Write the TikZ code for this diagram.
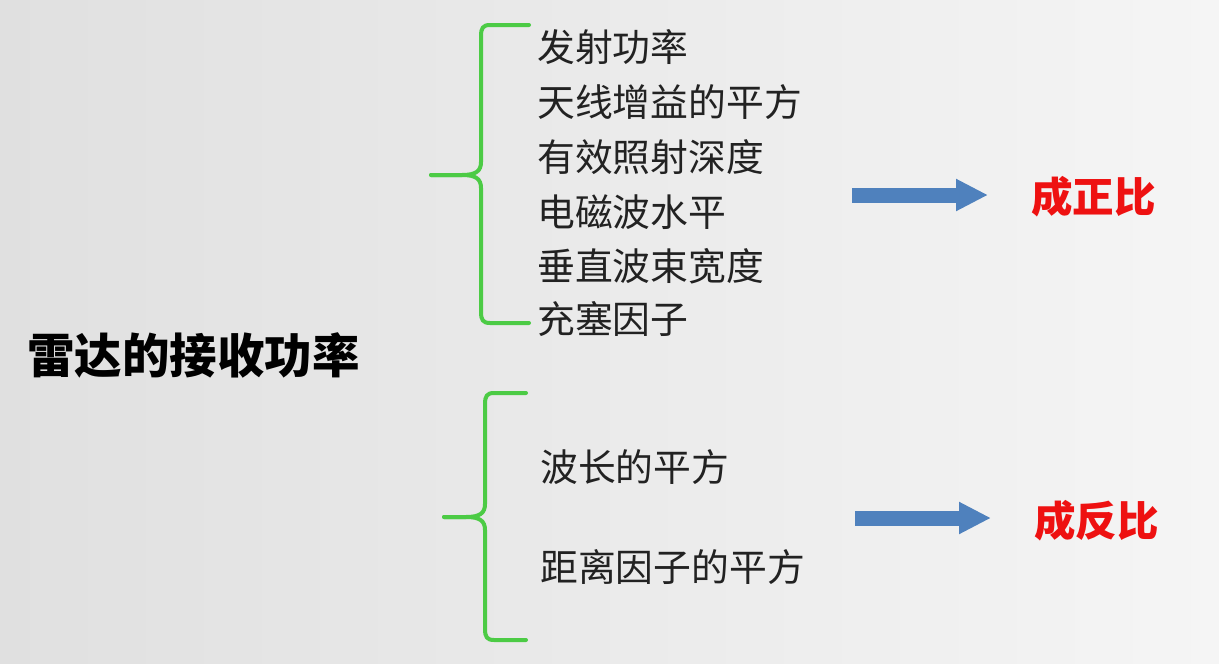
\documentclass[tikz,border=0pt]{standalone}
\usepackage{fontspec}
\newfontfamily\cjk{Noto Sans CJK SC}
\usetikzlibrary{arrows.meta}
\definecolor{bgL}{HTML}{E0E0E0}
\definecolor{bgR}{HTML}{F5F5F5}
\definecolor{brgreen}{HTML}{4CCB45}
\definecolor{arrblue}{HTML}{4F81BD}
\definecolor{txt}{HTML}{222222}
\definecolor{red1}{HTML}{EE1111}
\tikzset{
  item/.style={anchor=west, inner sep=0pt, text=txt, font=\cjk\fontsize{37.8}{44}\selectfont},
  title/.style={anchor=west, inner sep=0pt, text=black, font=\cjk\bfseries\fontsize{47.5}{54}\selectfont},
  result/.style={anchor=west, inner sep=0pt, text=red1, font=\cjk\bfseries\fontsize{41.5}{48}\selectfont},
  brace/.style={draw=brgreen, line width=4pt, line cap=round, line join=round},
  bigarrow/.style={draw=arrblue, line width=15pt, -{Triangle[length=32pt,width=30pt]}}
}
\begin{document}
\begin{tikzpicture}[x=1pt,y=-1pt]
\useasboundingbox (0,0) rectangle (1219,664);
\shade[left color=bgL, right color=bgR] (0,0) rectangle (1219,664);

% title
\node[title] (t) at (27,355) {雷达的接收功率};

% upper items
\node[item] (a1) at (537,47) {发射功率};
\node[item] (a2) at (537,102) {天线增益的平方};
\node[item] (a3) at (537,157) {有效照射深度};
\node[item] (a4) at (537,212) {电磁波水平};
\node[item] (a5) at (537,266) {垂直波束宽度};
\node[item] (a6) at (537,319) {充塞因子};

% lower items
\node[item] (b1) at (540,467) {波长的平方};
\node[item] (b2) at (540,567) {距离因子的平方};

% upper brace
\draw[brace] (529,25) -- (490,25) .. controls (483,25) and (481,28) .. (481,36)
  -- (481,162) .. controls (481,171) and (476,175) .. (462,175) -- (431,175);
\draw[brace] (431,175) -- (462,175) .. controls (476,175) and (481,179) .. (481,188)
  -- (481,312) .. controls (481,320) and (483,323) .. (490,323) -- (529,323);

% lower brace
\draw[brace] (526,393) -- (494,393) .. controls (487,393) and (485,396) .. (485,404)
  -- (485,504) .. controls (485,513) and (480,517) .. (466,517) -- (444,517);
\draw[brace] (444,517) -- (466,517) .. controls (480,517) and (485,521) .. (485,530)
  -- (485,629) .. controls (485,637) and (487,640) .. (494,640) -- (526,640);

% arrows
\coordinate (s1) at (852,195);
\coordinate (e1) at (988,195);
\coordinate (s2) at (855,518);
\coordinate (e2) at (991,518);
\draw[bigarrow] (s1) -- (e1);
\draw[bigarrow] (s2) -- (e2);

% results
\node[result] (r1) at (1031,197) {成正比};
\node[result] (r2) at (1034,521) {成反比};
\end{tikzpicture}
\end{document}
